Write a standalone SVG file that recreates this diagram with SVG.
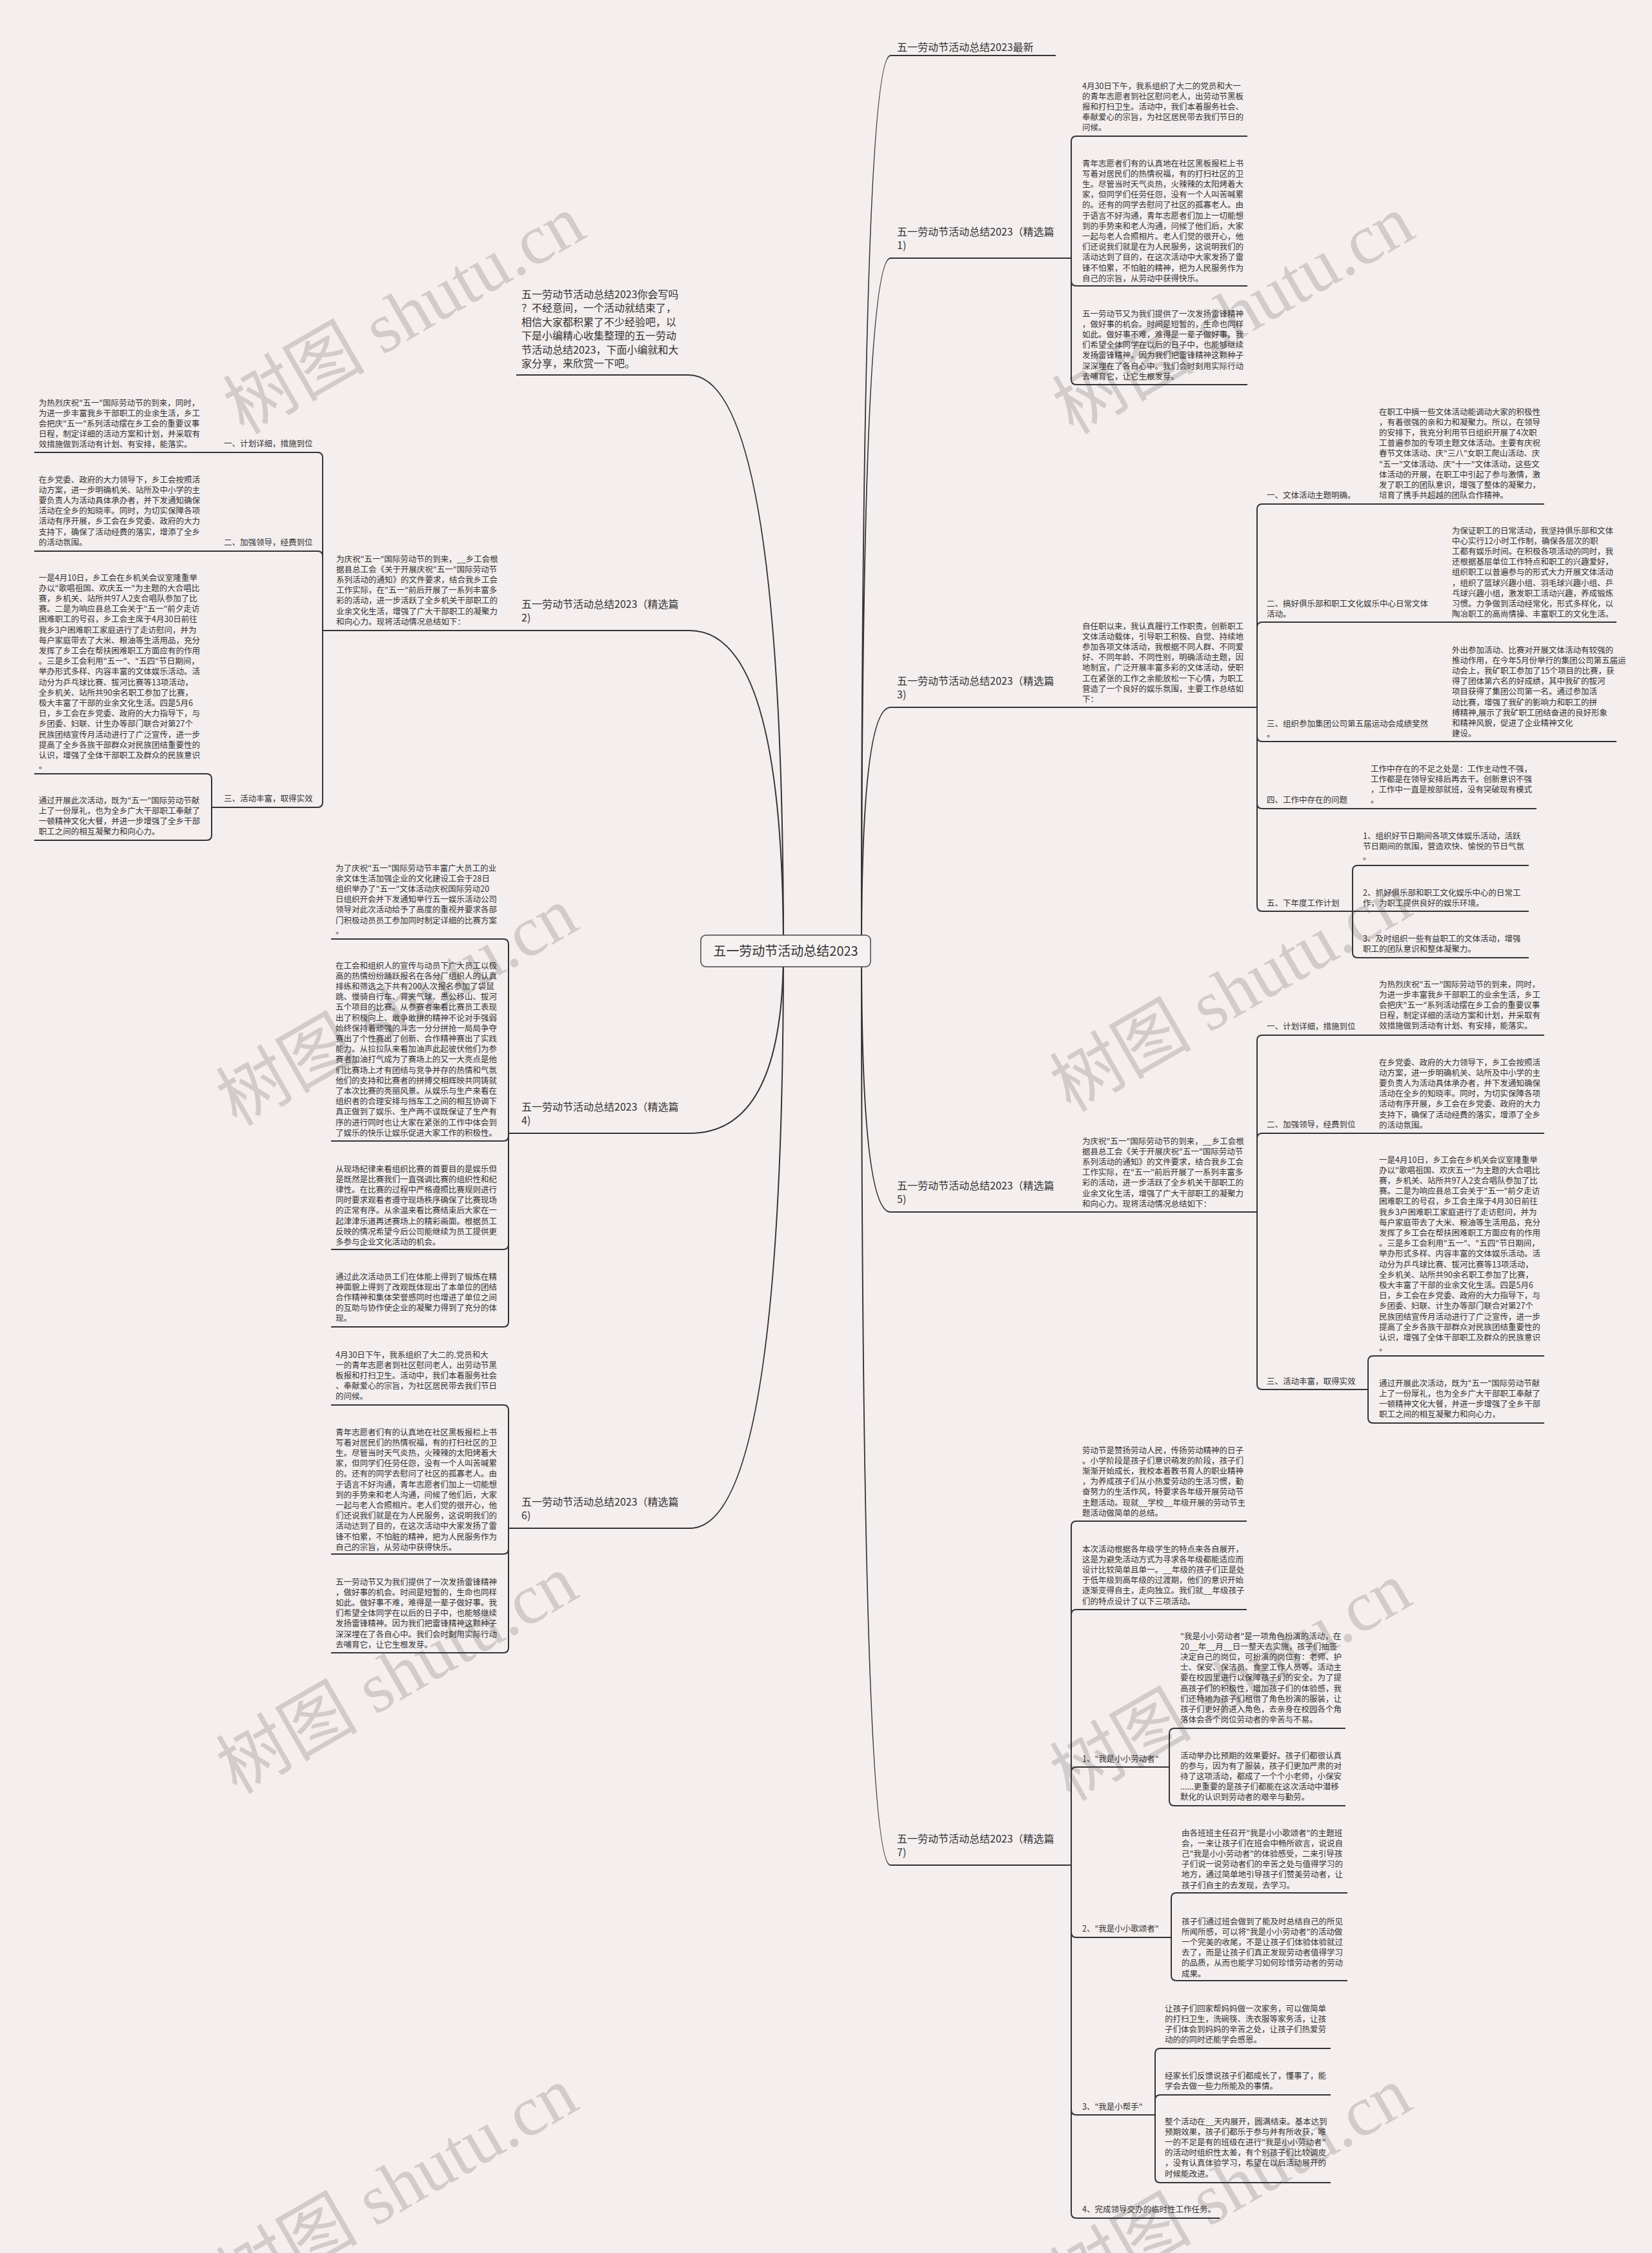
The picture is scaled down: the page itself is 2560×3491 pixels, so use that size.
<svg xmlns="http://www.w3.org/2000/svg" width="2560" height="3491" viewBox="0 0 2560 3491">
<style>
.t{font-family:"Noto Sans CJK SC","Noto Sans",sans-serif;font-size:12.5px;fill:#333}
.lb{font-family:"Noto Sans CJK SC","Noto Sans",sans-serif;font-size:16px;fill:#333}
.ct{font-family:"Noto Sans CJK SC","Noto Sans",sans-serif;font-size:20px;fill:#333}
.ul{stroke:#333;stroke-width:2;fill:none}
.cn{stroke:#333;stroke-width:2;fill:none}
.wm{font-family:"Liberation Serif","Noto Sans CJK SC",serif;font-size:110px;fill:#c9c3c3;opacity:0.8}
</style>
<rect x="0" y="0" width="2560" height="3491" fill="#f4eeee"/>
<g id="watermarks">
<text class="wm" text-anchor="middle" transform="translate(645,520) rotate(-30)">树图 shutu.cn</text>
<text class="wm" text-anchor="middle" transform="translate(1930,520) rotate(-30)">树图 shutu.cn</text>
<text class="wm" text-anchor="middle" transform="translate(634,1592) rotate(-30)">树图 shutu.cn</text>
<text class="wm" text-anchor="middle" transform="translate(1926,1570) rotate(-30)">树图 shutu.cn</text>
<text class="wm" text-anchor="middle" transform="translate(634,2627) rotate(-30)">树图 shutu.cn</text>
<text class="wm" text-anchor="middle" transform="translate(1926,2638) rotate(-30)">树图 shutu.cn</text>
<text class="wm" text-anchor="middle" transform="translate(634,3420) rotate(-30)">树图 shutu.cn</text>
<text class="wm" text-anchor="middle" transform="translate(1926,3420) rotate(-30)">树图 shutu.cn</text>
</g>
<g id="connectors">
<path class="cn" d="M1335 1473Q1335 86 1380 86"/>
<path class="cn" d="M1335 1473Q1335 400 1380 400"/>
<path class="cn" d="M1335 1473Q1335 1096 1380 1096"/>
<path class="cn" d="M1335 1473Q1335 1878 1380 1878"/>
<path class="cn" d="M1335 1473Q1335 2890 1380 2890"/>
<path class="cn" d="M1214 1473Q1214 581 1067 581"/>
<path class="cn" d="M1214 1473Q1214 977 1069 977"/>
<path class="cn" d="M1214 1473Q1214 1756 1069 1756"/>
<path class="cn" d="M1214 1473Q1214 2368 1069 2368"/>
<path class="cn" d="M1660 400V219Q1660 211 1668 211M1660 400V435Q1660 443 1668 443M1660 400V588Q1660 596 1668 596"/>
<path class="cn" d="M1948 1096V789Q1948 781 1956 781M1948 1096V972Q1948 964 1956 964M1948 1096V1141Q1948 1149 1956 1149M1948 1096V1245Q1948 1253 1956 1253M1948 1096V1404Q1948 1412 1956 1412"/>
<path class="cn" d="M2096 1412V1349Q2096 1341 2104 1341M2096 1412H2104M2096 1412V1476Q2096 1484 2104 1484"/>
<path class="cn" d="M1948 1878V1612Q1948 1604 1956 1604M1948 1878V1764Q1948 1756 1956 1756M1948 1878V2145Q1948 2153 1956 2153"/>
<path class="cn" d="M2120 2153V2109Q2120 2101 2128 2101M2120 2153V2197Q2120 2205 2128 2205"/>
<path class="cn" d="M1660 2890V2365Q1660 2357 1668 2357M1660 2890V2502Q1660 2494 1668 2494M1660 2890V2746Q1660 2738 1668 2738M1660 2890V2994Q1660 3002 1668 3002M1660 2890V3269Q1660 3277 1668 3277M1660 2890V3429Q1660 3437 1668 3437"/>
<path class="cn" d="M1812 2738V2686Q1812 2678 1820 2678M1812 2738V2790Q1812 2798 1820 2798"/>
<path class="cn" d="M1815 3002V2941Q1815 2933 1823 2933M1815 3002V3061Q1815 3069 1823 3069"/>
<path class="cn" d="M1790 3277V3182Q1790 3174 1798 3174M1790 3277V3254Q1790 3246 1798 3246M1790 3277V3374Q1790 3382 1798 3382"/>
<path class="cn" d="M500 977V709Q500 701 492 701M500 977V862Q500 854 492 854M500 977V1243Q500 1251 492 1251"/>
<path class="cn" d="M328 1251V1207Q328 1199 320 1199M328 1251V1294Q328 1302 320 1302"/>
<path class="cn" d="M788 1756V1463Q788 1455 780 1455M788 1756V1760Q788 1768 780 1768M788 1756V1928Q788 1936 780 1936M788 1756V2048Q788 2056 780 2056"/>
<path class="cn" d="M788 2368V2185Q788 2177 780 2177M788 2368V2400Q788 2408 780 2408M788 2368V2553Q788 2561 780 2561"/>
</g>
<g id="center">
<rect x="1086" y="1449" width="263" height="49" rx="8" fill="#f6f1f1" stroke="#444" stroke-width="1.5"/>
<text class="ct" x="1217.5" y="1480.5" text-anchor="middle">五一劳动节活动总结2023</text>
</g>
<g id="r0">
<text class="lb" x="1390" y="79">五一劳动节活动总结2023最新</text>
<path class="ul" d="M1380 86H1636"/>
</g>
<g id="r1">
<text class="lb" x="1390" y="365"><tspan x="1390">五一劳动节活动总结2023（精选篇</tspan><tspan x="1390" dy="21.4">1)</tspan></text>
<path class="ul" d="M1380 400H1660"/>
</g>
<g id="r1-1">
<text class="t" x="1677" y="137.6"><tspan x="1677">4月30日下午，我系组织了大二的党员和大一</tspan><tspan x="1677" dy="16.2">的青年志愿者到社区慰问老人，出劳动节黑板</tspan><tspan x="1677" dy="16.2">报和打扫卫生。活动中，我们本着服务社会、</tspan><tspan x="1677" dy="16.2">奉献爱心的宗旨，为社区居民带去我们节日的</tspan><tspan x="1677" dy="16.2">问候。</tspan></text>
<path class="ul" d="M1668 211H1933"/>
</g>
<g id="r1-2">
<text class="t" x="1677" y="257.6"><tspan x="1677">青年志愿者们有的认真地在社区黑板报栏上书</tspan><tspan x="1677" dy="16.2">写着对居民们的热情祝福，有的打扫社区的卫</tspan><tspan x="1677" dy="16.2">生。尽管当时天气炎热，火辣辣的太阳烤着大</tspan><tspan x="1677" dy="16.2">家，但同学们任劳任怨，没有一个人叫苦喊累</tspan><tspan x="1677" dy="16.2">的。还有的同学去慰问了社区的孤寡老人。由</tspan><tspan x="1677" dy="16.2">于语言不好沟通，青年志愿者们加上一切能想</tspan><tspan x="1677" dy="16.2">到的手势来和老人沟通，问候了他们后，大家</tspan><tspan x="1677" dy="16.2">一起与老人合照相片。老人们觉的很开心，他</tspan><tspan x="1677" dy="16.2">们还说我们就是在为人民服务，这说明我们的</tspan><tspan x="1677" dy="16.2">活动达到了目的，在这次活动中大家发扬了雷</tspan><tspan x="1677" dy="16.2">锋不怕累，不怕脏的精神，把为人民服务作为</tspan><tspan x="1677" dy="16.2">自己的宗旨，从劳动中获得快乐。</tspan></text>
<path class="ul" d="M1668 443H1933"/>
</g>
<g id="r1-3">
<text class="t" x="1677" y="490.6"><tspan x="1677">五一劳动节又为我们提供了一次发扬雷锋精神</tspan><tspan x="1677" dy="16.2">，做好事的机会。时间是短暂的，生命也同样</tspan><tspan x="1677" dy="16.2">如此。做好事不难，难得是一辈子做好事。我</tspan><tspan x="1677" dy="16.2">们希望全体同学在以后的日子中，也能够继续</tspan><tspan x="1677" dy="16.2">发扬雷锋精神。因为我们把雷锋精神这颗种子</tspan><tspan x="1677" dy="16.2">深深埋在了各自心中。我们会时刻用实际行动</tspan><tspan x="1677" dy="16.2">去哺育它，让它生根发芽。</tspan></text>
<path class="ul" d="M1668 596H1933"/>
</g>
<g id="r3">
<text class="lb" x="1390" y="1061"><tspan x="1390">五一劳动节活动总结2023（精选篇</tspan><tspan x="1390" dy="21.4">3)</tspan></text>
<path class="ul" d="M1380 1096H1660"/>
</g>
<g id="r3-0">
<text class="t" x="1677" y="974.6"><tspan x="1677">自任职以来，我认真履行工作职责，创新职工</tspan><tspan x="1677" dy="16.2">文体活动载体，引导职工积极、自觉、持续地</tspan><tspan x="1677" dy="16.2">参加各项文体活动，我根据不同人群、不同爱</tspan><tspan x="1677" dy="16.2">好、不同年龄、不同性别，明确活动主题，因</tspan><tspan x="1677" dy="16.2">地制宜，广泛开展丰富多彩的文体活动，使职</tspan><tspan x="1677" dy="16.2">工在紧张的工作之余能放松一下心情，为职工</tspan><tspan x="1677" dy="16.2">营造了一个良好的娱乐氛围，主要工作总结如</tspan><tspan x="1677" dy="16.2">下：</tspan></text>
<path class="ul" d="M1660 1096H1948"/>
</g>
<g id="r3-1">
<text class="t" x="1963" y="771.6">一、文体活动主题明确。</text>
<path class="ul" d="M1956 781H2128"/>
</g>
<g id="r3-1-1">
<text class="t" x="2137" y="642.6"><tspan x="2137">在职工中搞一些文体活动能调动大家的积极性</tspan><tspan x="2137" dy="16.2">，有着很强的亲和力和凝聚力。所以，在领导</tspan><tspan x="2137" dy="16.2">的安排下，我充分利用节日组织开展了4次职</tspan><tspan x="2137" dy="16.2">工普遍参加的专项主题文体活动。主要有庆祝</tspan><tspan x="2137" dy="16.2">春节文体活动、庆"三八"女职工爬山活动、庆</tspan><tspan x="2137" dy="16.2">"五一"文体活动、庆"十一"文体活动，这些文</tspan><tspan x="2137" dy="16.2">体活动的开展，在职工中引起了参与激情，激</tspan><tspan x="2137" dy="16.2">发了职工的团队意识，增强了整体的凝聚力，</tspan><tspan x="2137" dy="16.2">培育了携手共超越的团队合作精神。</tspan></text>
<path class="ul" d="M2128 781H2393"/>
</g>
<g id="r3-2">
<text class="t" x="1963" y="939.6"><tspan x="1963">二、搞好俱乐部和职工文化娱乐中心日常文体</tspan><tspan x="1963" dy="16.2">活动。</tspan></text>
<path class="ul" d="M1956 964H2240"/>
</g>
<g id="r3-2-1">
<text class="t" x="2250" y="826.6"><tspan x="2250">为保证职工的日常活动，我坚持俱乐部和文体</tspan><tspan x="2250" dy="16.2">中心实行12小时工作制，确保各层次的职</tspan><tspan x="2250" dy="16.2">工都有娱乐时间。在积极各项活动的同时，我</tspan><tspan x="2250" dy="16.2">还根据基层单位工作特点和职工的兴趣爱好，</tspan><tspan x="2250" dy="16.2">组织职工以普遍参与的形式大力开展文体活动</tspan><tspan x="2250" dy="16.2">，组织了篮球兴趣小组、羽毛球兴趣小组、乒</tspan><tspan x="2250" dy="16.2">乓球兴趣小组，激发职工活动兴趣，养成锻炼</tspan><tspan x="2250" dy="16.2">习惯。力争做到活动经常化，形式多样化，以</tspan><tspan x="2250" dy="16.2">陶冶职工的高尚情操、丰富职工的文化生活。</tspan></text>
<path class="ul" d="M2240 964H2505"/>
</g>
<g id="r3-3">
<text class="t" x="1963" y="1125.6"><tspan x="1963">三、组织参加集团公司第五届运动会成绩斐然</tspan><tspan x="1963" dy="16.2">。</tspan></text>
<path class="ul" d="M1956 1149H2240"/>
</g>
<g id="r3-3-1">
<text class="t" x="2250" y="1011.6"><tspan x="2250">外出参加活动、比赛对开展文体活动有较强的</tspan><tspan x="2250" dy="16.2">推动作用，在今年5月份举行的集团公司第五届运</tspan><tspan x="2250" dy="16.2">动会上，我矿职工参加了15个项目的比赛，获</tspan><tspan x="2250" dy="16.2">得了团体第六名的好成绩，其中我矿的拔河</tspan><tspan x="2250" dy="16.2">项目获得了集团公司第一名。通过参加活</tspan><tspan x="2250" dy="16.2">动比赛，增强了我矿的影响力和职工的拼</tspan><tspan x="2250" dy="16.2">搏精神,展示了我矿职工团结奋进的良好形象</tspan><tspan x="2250" dy="16.2">和精神风貌，促进了企业精神文化</tspan><tspan x="2250" dy="16.2">建设。</tspan></text>
<path class="ul" d="M2240 1149H2505"/>
</g>
<g id="r3-4">
<text class="t" x="1963" y="1243.6">四、工作中存在的问题</text>
<path class="ul" d="M1956 1253H2115"/>
</g>
<g id="r3-4-1">
<text class="t" x="2124" y="1195.6"><tspan x="2124">工作中存在的不足之处是：工作主动性不强，</tspan><tspan x="2124" dy="16.2">工作都是在领导安排后再去干。创新意识不强</tspan><tspan x="2124" dy="16.2">，工作中一直是按部就班，没有突破现有模式</tspan><tspan x="2124" dy="16.2">。</tspan></text>
<path class="ul" d="M2115 1253H2381"/>
</g>
<g id="r3-5">
<text class="t" x="1963" y="1403.6">五、下年度工作计划</text>
<path class="ul" d="M1956 1412H2096"/>
</g>
<g id="r3-5-1">
<text class="t" x="2112" y="1299.6"><tspan x="2112">1、组织好节日期间各项文体娱乐活动，活跃</tspan><tspan x="2112" dy="16.2">节日期间的氛围，营造欢快、愉悦的节日气氛</tspan><tspan x="2112" dy="16.2">。</tspan></text>
<path class="ul" d="M2104 1341H2369"/>
</g>
<g id="r3-5-2">
<text class="t" x="2112" y="1387.6"><tspan x="2112">2、抓好俱乐部和职工文化娱乐中心的日常工</tspan><tspan x="2112" dy="16.2">作，为职工提供良好的娱乐环境。</tspan></text>
<path class="ul" d="M2104 1412H2369"/>
</g>
<g id="r3-5-3">
<text class="t" x="2112" y="1458.6"><tspan x="2112">3、及时组织一些有益职工的文体活动，增强</tspan><tspan x="2112" dy="16.2">职工的团队意识和整体凝聚力。</tspan></text>
<path class="ul" d="M2104 1484H2369"/>
</g>
<g id="r5">
<text class="lb" x="1390" y="1843"><tspan x="1390">五一劳动节活动总结2023（精选篇</tspan><tspan x="1390" dy="21.4">5)</tspan></text>
<path class="ul" d="M1380 1878H1660"/>
</g>
<g id="r5-0">
<text class="t" x="1677" y="1772.6"><tspan x="1677">为庆祝"五一"国际劳动节的到来，__乡工会根</tspan><tspan x="1677" dy="16.2">据县总工会《关于开展庆祝"五一"国际劳动节</tspan><tspan x="1677" dy="16.2">系列活动的通知》的文件要求，结合我乡工会</tspan><tspan x="1677" dy="16.2">工作实际，在"五一"前后开展了一系列丰富多</tspan><tspan x="1677" dy="16.2">彩的活动，进一步活跃了全乡机关干部职工的</tspan><tspan x="1677" dy="16.2">业余文化生活，增强了广大干部职工的凝聚力</tspan><tspan x="1677" dy="16.2">和向心力。现将活动情况总结如下：</tspan></text>
<path class="ul" d="M1660 1878H1948"/>
</g>
<g id="r5-1">
<text class="t" x="1963" y="1594.6">一、计划详细，措施到位</text>
<path class="ul" d="M1956 1604H2128"/>
</g>
<g id="r5-1-1">
<text class="t" x="2137" y="1529.6"><tspan x="2137">为热烈庆祝"五一"国际劳动节的到来，同时，</tspan><tspan x="2137" dy="16.2">为进一步丰富我乡干部职工的业余生活，乡工</tspan><tspan x="2137" dy="16.2">会把庆"五一"系列活动摆在乡工会的重要议事</tspan><tspan x="2137" dy="16.2">日程，制定详细的活动方案和计划，并采取有</tspan><tspan x="2137" dy="16.2">效措施做到活动有计划、有安排，能落实。</tspan></text>
<path class="ul" d="M2128 1604H2393"/>
</g>
<g id="r5-2">
<text class="t" x="1963" y="1746.6">二、加强领导，经费到位</text>
<path class="ul" d="M1956 1756H2128"/>
</g>
<g id="r5-2-1">
<text class="t" x="2137" y="1650.6"><tspan x="2137">在乡党委、政府的大力领导下，乡工会按照活</tspan><tspan x="2137" dy="16.2">动方案，进一步明确机关、站所及中小学的主</tspan><tspan x="2137" dy="16.2">要负责人为活动具体承办者，并下发通知确保</tspan><tspan x="2137" dy="16.2">活动在全乡的知晓率。同时，为切实保障各项</tspan><tspan x="2137" dy="16.2">活动有序开展，乡工会在乡党委、政府的大力</tspan><tspan x="2137" dy="16.2">支持下，确保了活动经费的落实，增添了全乡</tspan><tspan x="2137" dy="16.2">的活动氛围。</tspan></text>
<path class="ul" d="M2128 1756H2393"/>
</g>
<g id="r5-3">
<text class="t" x="1963" y="2144.6">三、活动丰富，取得实效</text>
<path class="ul" d="M1956 2153H2120"/>
</g>
<g id="r5-3-1">
<text class="t" x="2137" y="1801.6"><tspan x="2137">一是4月10日，乡工会在乡机关会议室隆重举</tspan><tspan x="2137" dy="16.2">办以"歌唱祖国、欢庆五一"为主题的大合唱比</tspan><tspan x="2137" dy="16.2">赛，乡机关、站所共97人2支合唱队参加了比</tspan><tspan x="2137" dy="16.2">赛。二是为响应县总工会关于"五一"前夕走访</tspan><tspan x="2137" dy="16.2">困难职工的号召，乡工会主席于4月30日前往</tspan><tspan x="2137" dy="16.2">我乡3户困难职工家庭进行了走访慰问，并为</tspan><tspan x="2137" dy="16.2">每户家庭带去了大米、粮油等生活用品，充分</tspan><tspan x="2137" dy="16.2">发挥了乡工会在帮扶困难职工方面应有的作用</tspan><tspan x="2137" dy="16.2">。三是乡工会利用"五一"、"五四"节日期间，</tspan><tspan x="2137" dy="16.2">举办形式多样、内容丰富的文体娱乐活动。活</tspan><tspan x="2137" dy="16.2">动分为乒乓球比赛、拔河比赛等13项活动，</tspan><tspan x="2137" dy="16.2">全乡机关、站所共90余名职工参加了比赛，</tspan><tspan x="2137" dy="16.2">极大丰富了干部的业余文化生活。四是5月6</tspan><tspan x="2137" dy="16.2">日，乡工会在乡党委、政府的大力指导下，与</tspan><tspan x="2137" dy="16.2">乡团委、妇联、计生办等部门联合对第27个</tspan><tspan x="2137" dy="16.2">民族团结宣传月活动进行了广泛宣传，进一步</tspan><tspan x="2137" dy="16.2">提高了全乡各族干部群众对民族团结重要性的</tspan><tspan x="2137" dy="16.2">认识，增强了全体干部职工及群众的民族意识</tspan><tspan x="2137" dy="16.2">。</tspan></text>
<path class="ul" d="M2128 2101H2393"/>
</g>
<g id="r5-3-2">
<text class="t" x="2137" y="2147.6"><tspan x="2137">通过开展此次活动，既为"五一"国际劳动节献</tspan><tspan x="2137" dy="16.2">上了一份厚礼，也为全乡广大干部职工奉献了</tspan><tspan x="2137" dy="16.2">一顿精神文化大餐，并进一步增强了全乡干部</tspan><tspan x="2137" dy="16.2">职工之间的相互凝聚力和向心力，</tspan></text>
<path class="ul" d="M2128 2205H2393"/>
</g>
<g id="r7">
<text class="lb" x="1390" y="2855"><tspan x="1390">五一劳动节活动总结2023（精选篇</tspan><tspan x="1390" dy="21.4">7)</tspan></text>
<path class="ul" d="M1380 2890H1660"/>
</g>
<g id="r7-1">
<text class="t" x="1677" y="2251.6"><tspan x="1677">劳动节是赞扬劳动人民，传扬劳动精神的日子</tspan><tspan x="1677" dy="16.2">。小学阶段是孩子们意识萌发的阶段，孩子们</tspan><tspan x="1677" dy="16.2">渐渐开始成长，我校本着教书育人的职业精神</tspan><tspan x="1677" dy="16.2">，为养成孩子们从小热爱劳动的生活习惯，勤</tspan><tspan x="1677" dy="16.2">奋努力的生活作风，特要求各年级开展劳动节</tspan><tspan x="1677" dy="16.2">主题活动。现就__学校__年级开展的劳动节主</tspan><tspan x="1677" dy="16.2">题活动做简单的总结。</tspan></text>
<path class="ul" d="M1668 2357H1932"/>
</g>
<g id="r7-2">
<text class="t" x="1677" y="2404.6"><tspan x="1677">本次活动根据各年级学生的特点来各自展开，</tspan><tspan x="1677" dy="16.2">这是为避免活动方式为寻求各年级都能适应而</tspan><tspan x="1677" dy="16.2">设计比较简单且单一。__年级的孩子们正是处</tspan><tspan x="1677" dy="16.2">于低年级到高年级的过渡期，他们的意识开始</tspan><tspan x="1677" dy="16.2">逐渐变得自主，走向独立。我们就__年级孩子</tspan><tspan x="1677" dy="16.2">们的特点设计了以下三项活动。</tspan></text>
<path class="ul" d="M1668 2494H1932"/>
</g>
<g id="r7-3">
<text class="t" x="1677" y="2729.6">1、"我是小小劳动者"</text>
<path class="ul" d="M1668 2738H1812"/>
</g>
<g id="r7-3-1">
<text class="t" x="1829" y="2539.6"><tspan x="1829">"我是小小劳动者"是一项角色扮演的活动，在</tspan><tspan x="1829" dy="16.2">20__年__月__日一整天去实施，孩子们抽签</tspan><tspan x="1829" dy="16.2">决定自己的岗位，可扮演的岗位有：老师、护</tspan><tspan x="1829" dy="16.2">士、保安、保洁员、食堂工作人员等。活动主</tspan><tspan x="1829" dy="16.2">要在校园里进行以保障孩子们的安全。为了提</tspan><tspan x="1829" dy="16.2">高孩子们的积极性，增加孩子们的体验感，我</tspan><tspan x="1829" dy="16.2">们还特地为孩子们租借了角色扮演的服装，让</tspan><tspan x="1829" dy="16.2">孩子们更好的进入角色，去亲身在校园各个角</tspan><tspan x="1829" dy="16.2">落体会各个岗位劳动者的辛苦与不易。</tspan></text>
<path class="ul" d="M1820 2678H2085"/>
</g>
<g id="r7-3-2">
<text class="t" x="1829" y="2724.6"><tspan x="1829">活动举办比预期的效果要好。孩子们都很认真</tspan><tspan x="1829" dy="16.2">的参与，因为有了服装，孩子们更加严肃的对</tspan><tspan x="1829" dy="16.2">待了这项活动，都成了一个个小老师，小保安</tspan><tspan x="1829" dy="16.2">......更重要的是孩子们都能在这次活动中潜移</tspan><tspan x="1829" dy="16.2">默化的认识到劳动者的艰辛与勤劳。</tspan></text>
<path class="ul" d="M1820 2798H2085"/>
</g>
<g id="r7-4">
<text class="t" x="1677" y="2992.6">2、"我是小小歌颂者"</text>
<path class="ul" d="M1668 3002H1815"/>
</g>
<g id="r7-4-1">
<text class="t" x="1831" y="2844.6"><tspan x="1831">由各班班主任召开"我是小小歌颂者"的主题班</tspan><tspan x="1831" dy="16.2">会，一来让孩子们在班会中畅所欲言，说说自</tspan><tspan x="1831" dy="16.2">己"我是小小劳动者"的体验感受，二来引导孩</tspan><tspan x="1831" dy="16.2">子们说一说劳动者们的辛苦之处与值得学习的</tspan><tspan x="1831" dy="16.2">地方，通过简单地引导孩子们赞美劳动者，让</tspan><tspan x="1831" dy="16.2">孩子们自主的去发现，去学习。</tspan></text>
<path class="ul" d="M1823 2933H2088"/>
</g>
<g id="r7-4-2">
<text class="t" x="1831" y="2981.6"><tspan x="1831">孩子们通过班会做到了能及时总结自己的所见</tspan><tspan x="1831" dy="16.2">所闻所感，可以将"我是小小劳动者"的活动做</tspan><tspan x="1831" dy="16.2">一个完美的收尾，不是让孩子们体验体验就过</tspan><tspan x="1831" dy="16.2">去了，而是让孩子们真正发现劳动者值得学习</tspan><tspan x="1831" dy="16.2">的品质，从而也能学习如何珍惜劳动者的劳动</tspan><tspan x="1831" dy="16.2">成果。</tspan></text>
<path class="ul" d="M1823 3069H2088"/>
</g>
<g id="r7-5">
<text class="t" x="1677" y="3268.6">3、"我是小帮手"</text>
<path class="ul" d="M1668 3277H1790"/>
</g>
<g id="r7-5-1">
<text class="t" x="1805" y="3116.6"><tspan x="1805">让孩子们回家帮妈妈做一次家务，可以做简单</tspan><tspan x="1805" dy="16.2">的打扫卫生，洗碗筷、洗衣服等家务活，让孩</tspan><tspan x="1805" dy="16.2">子们体会到妈妈的辛苦之处，让孩子们热爱劳</tspan><tspan x="1805" dy="16.2">动的的同时还能学会感恩。</tspan></text>
<path class="ul" d="M1798 3174H2062"/>
</g>
<g id="r7-5-2">
<text class="t" x="1805" y="3220.6"><tspan x="1805">经家长们反馈说孩子们都成长了，懂事了，能</tspan><tspan x="1805" dy="16.2">学会去做一些力所能及的事情。</tspan></text>
<path class="ul" d="M1798 3246H2062"/>
</g>
<g id="r7-5-3">
<text class="t" x="1805" y="3291.6"><tspan x="1805">整个活动在__天内展开，圆满结束。基本达到</tspan><tspan x="1805" dy="16.2">预期效果，孩子们都乐于参与并有所收获，唯</tspan><tspan x="1805" dy="16.2">一的不足是有的班级在进行"我是小小劳动者"</tspan><tspan x="1805" dy="16.2">的活动时组织性太差，有个别孩子们比较调皮</tspan><tspan x="1805" dy="16.2">，没有认真体验学习，希望在以后活动展开的</tspan><tspan x="1805" dy="16.2">时候能改进。</tspan></text>
<path class="ul" d="M1798 3382H2062"/>
</g>
<g id="r7-6">
<text class="t" x="1677" y="3427.6">4、完成领导交办的临时性工作任务。</text>
<path class="ul" d="M1668 3437H1890"/>
</g>
<g id="l0">
<text class="lb" x="808" y="462"><tspan x="808">五一劳动节活动总结2023你会写吗</tspan><tspan x="808" dy="21.4">？不经意间，一个活动就结束了，</tspan><tspan x="808" dy="21.4">相信大家都积累了不少经验吧，以</tspan><tspan x="808" dy="21.4">下是小编精心收集整理的五一劳动</tspan><tspan x="808" dy="21.4">节活动总结2023，下面小编就和大</tspan><tspan x="808" dy="21.4">家分享，来欣赏一下吧。</tspan></text>
<path class="ul" d="M800 581H1067"/>
</g>
<g id="l2">
<text class="lb" x="808" y="942"><tspan x="808">五一劳动节活动总结2023（精选篇</tspan><tspan x="808" dy="21.4">2)</tspan></text>
<path class="ul" d="M800 977H1069"/>
</g>
<g id="l2-0">
<text class="t" x="521" y="870.6"><tspan x="521">为庆祝"五一"国际劳动节的到来，__乡工会根</tspan><tspan x="521" dy="16.2">据县总工会《关于开展庆祝"五一"国际劳动节</tspan><tspan x="521" dy="16.2">系列活动的通知》的文件要求，结合我乡工会</tspan><tspan x="521" dy="16.2">工作实际，在"五一"前后开展了一系列丰富多</tspan><tspan x="521" dy="16.2">彩的活动，进一步活跃了全乡机关干部职工的</tspan><tspan x="521" dy="16.2">业余文化生活，增强了广大干部职工的凝聚力</tspan><tspan x="521" dy="16.2">和向心力。现将活动情况总结如下：</tspan></text>
<path class="ul" d="M500 977H800"/>
</g>
<g id="l2-1">
<text class="t" x="347" y="691.6">一、计划详细，措施到位</text>
<path class="ul" d="M340 701H492"/>
</g>
<g id="l2-1-1">
<text class="t" x="60" y="628.6"><tspan x="60">为热烈庆祝"五一"国际劳动节的到来，同时，</tspan><tspan x="60" dy="16.2">为进一步丰富我乡干部职工的业余生活，乡工</tspan><tspan x="60" dy="16.2">会把庆"五一"系列活动摆在乡工会的重要议事</tspan><tspan x="60" dy="16.2">日程，制定详细的活动方案和计划，并采取有</tspan><tspan x="60" dy="16.2">效措施做到活动有计划、有安排，能落实。</tspan></text>
<path class="ul" d="M53 701H340"/>
</g>
<g id="l2-2">
<text class="t" x="347" y="844.6">二、加强领导，经费到位</text>
<path class="ul" d="M340 854H492"/>
</g>
<g id="l2-2-1">
<text class="t" x="60" y="747.6"><tspan x="60">在乡党委、政府的大力领导下，乡工会按照活</tspan><tspan x="60" dy="16.2">动方案，进一步明确机关、站所及中小学的主</tspan><tspan x="60" dy="16.2">要负责人为活动具体承办者，并下发通知确保</tspan><tspan x="60" dy="16.2">活动在全乡的知晓率。同时，为切实保障各项</tspan><tspan x="60" dy="16.2">活动有序开展，乡工会在乡党委、政府的大力</tspan><tspan x="60" dy="16.2">支持下，确保了活动经费的落实，增添了全乡</tspan><tspan x="60" dy="16.2">的活动氛围。</tspan></text>
<path class="ul" d="M53 854H340"/>
</g>
<g id="l2-3">
<text class="t" x="347" y="1241.6">三、活动丰富，取得实效</text>
<path class="ul" d="M328 1251H492"/>
</g>
<g id="l2-3-1">
<text class="t" x="60" y="899.6"><tspan x="60">一是4月10日，乡工会在乡机关会议室隆重举</tspan><tspan x="60" dy="16.2">办以"歌唱祖国、欢庆五一"为主题的大合唱比</tspan><tspan x="60" dy="16.2">赛，乡机关、站所共97人2支合唱队参加了比</tspan><tspan x="60" dy="16.2">赛。二是为响应县总工会关于"五一"前夕走访</tspan><tspan x="60" dy="16.2">困难职工的号召，乡工会主席于4月30日前往</tspan><tspan x="60" dy="16.2">我乡3户困难职工家庭进行了走访慰问，并为</tspan><tspan x="60" dy="16.2">每户家庭带去了大米、粮油等生活用品，充分</tspan><tspan x="60" dy="16.2">发挥了乡工会在帮扶困难职工方面应有的作用</tspan><tspan x="60" dy="16.2">。三是乡工会利用"五一"、"五四"节日期间，</tspan><tspan x="60" dy="16.2">举办形式多样、内容丰富的文体娱乐活动。活</tspan><tspan x="60" dy="16.2">动分为乒乓球比赛、拔河比赛等13项活动，</tspan><tspan x="60" dy="16.2">全乡机关、站所共90余名职工参加了比赛，</tspan><tspan x="60" dy="16.2">极大丰富了干部的业余文化生活。四是5月6</tspan><tspan x="60" dy="16.2">日，乡工会在乡党委、政府的大力指导下，与</tspan><tspan x="60" dy="16.2">乡团委、妇联、计生办等部门联合对第27个</tspan><tspan x="60" dy="16.2">民族团结宣传月活动进行了广泛宣传，进一步</tspan><tspan x="60" dy="16.2">提高了全乡各族干部群众对民族团结重要性的</tspan><tspan x="60" dy="16.2">认识，增强了全体干部职工及群众的民族意识</tspan><tspan x="60" dy="16.2">。</tspan></text>
<path class="ul" d="M53 1199H320"/>
</g>
<g id="l2-3-2">
<text class="t" x="60" y="1244.6"><tspan x="60">通过开展此次活动，既为"五一"国际劳动节献</tspan><tspan x="60" dy="16.2">上了一份厚礼，也为全乡广大干部职工奉献了</tspan><tspan x="60" dy="16.2">一顿精神文化大餐，并进一步增强了全乡干部</tspan><tspan x="60" dy="16.2">职工之间的相互凝聚力和向心力。</tspan></text>
<path class="ul" d="M53 1302H320"/>
</g>
<g id="l4">
<text class="lb" x="808" y="1721"><tspan x="808">五一劳动节活动总结2023（精选篇</tspan><tspan x="808" dy="21.4">4)</tspan></text>
<path class="ul" d="M788 1756H1069"/>
</g>
<g id="l4-1">
<text class="t" x="520" y="1349.6"><tspan x="520">为了庆祝"五一"国际劳动节丰富广大员工的业</tspan><tspan x="520" dy="16.2">余文体生活加强企业的文化建设工会于28日</tspan><tspan x="520" dy="16.2">组织举办了"五一"文体活动庆祝国际劳动20</tspan><tspan x="520" dy="16.2">日组织开会并下发通知举行五一娱乐活动公司</tspan><tspan x="520" dy="16.2">领导对此次活动给予了高度的重视并要求各部</tspan><tspan x="520" dy="16.2">门积极动员员工参加同时制定详细的比赛方案</tspan><tspan x="520" dy="16.2">。</tspan></text>
<path class="ul" d="M513 1455H780"/>
</g>
<g id="l4-2">
<text class="t" x="520" y="1500.6"><tspan x="520">在工会和组织人的宣传与动员下广大员工以极</tspan><tspan x="520" dy="16.2">高的热情纷纷踊跃报名在各分厂组织人的认真</tspan><tspan x="520" dy="16.2">排练和筛选之下共有200人次报名参加了袋鼠</tspan><tspan x="520" dy="16.2">跳、慢骑自行车、背夹气球、愚公移山、拔河</tspan><tspan x="520" dy="16.2">五个项目的比赛。从参赛者来看比赛员工表现</tspan><tspan x="520" dy="16.2">出了积极向上、敢争敢拼的精神不论对手强弱</tspan><tspan x="520" dy="16.2">始终保持着顽强的斗志一分分拼抢一局局争夺</tspan><tspan x="520" dy="16.2">赛出了个性赛出了创新、合作精神赛出了实践</tspan><tspan x="520" dy="16.2">能力。从拉拉队来看加油声此起彼伏他们为参</tspan><tspan x="520" dy="16.2">赛者加油打气成为了赛场上的又一大亮点是他</tspan><tspan x="520" dy="16.2">们比赛场上才有团结与竞争并存的热情和气氛</tspan><tspan x="520" dy="16.2">他们的支持和比赛者的拼搏交相辉映共同铸就</tspan><tspan x="520" dy="16.2">了本次比赛的亮丽风景。从娱乐与生产来看在</tspan><tspan x="520" dy="16.2">组织者的合理安排与挡车工之间的相互协调下</tspan><tspan x="520" dy="16.2">真正做到了娱乐、生产两不误既保证了生产有</tspan><tspan x="520" dy="16.2">序的进行同时也让大家在紧张的工作中体会到</tspan><tspan x="520" dy="16.2">了娱乐的快乐让娱乐促进大家工作的积极性。</tspan></text>
<path class="ul" d="M513 1768H780"/>
</g>
<g id="l4-3">
<text class="t" x="520" y="1815.6"><tspan x="520">从现场纪律来看组织比赛的首要目的是娱乐但</tspan><tspan x="520" dy="16.2">是既然是比赛我们一直强调比赛的组织性和纪</tspan><tspan x="520" dy="16.2">律性。在比赛的过程中严格遵照比赛规则进行</tspan><tspan x="520" dy="16.2">同时要求观看者遵守现场秩序确保了比赛现场</tspan><tspan x="520" dy="16.2">的正常有序。从余温来看比赛结束后大家在一</tspan><tspan x="520" dy="16.2">起津津乐道再述赛场上的精彩画面。根据员工</tspan><tspan x="520" dy="16.2">反映的情况希望今后公司能继续为员工提供更</tspan><tspan x="520" dy="16.2">多参与企业文化活动的机会。</tspan></text>
<path class="ul" d="M513 1936H780"/>
</g>
<g id="l4-4">
<text class="t" x="520" y="1982.6"><tspan x="520">通过此次活动员工们在体能上得到了锻炼在精</tspan><tspan x="520" dy="16.2">神面貌上得到了改观既体现出了本单位的团结</tspan><tspan x="520" dy="16.2">合作精神和集体荣誉感同时也增进了单位之间</tspan><tspan x="520" dy="16.2">的互助与协作使企业的凝聚力得到了充分的体</tspan><tspan x="520" dy="16.2">现。</tspan></text>
<path class="ul" d="M513 2056H780"/>
</g>
<g id="l6">
<text class="lb" x="808" y="2333"><tspan x="808">五一劳动节活动总结2023（精选篇</tspan><tspan x="808" dy="21.4">6)</tspan></text>
<path class="ul" d="M788 2368H1069"/>
</g>
<g id="l6-1">
<text class="t" x="520" y="2103.6"><tspan x="520">4月30日下午，我系组织了大二的.党员和大</tspan><tspan x="520" dy="16.2">一的青年志愿者到社区慰问老人，出劳动节黑</tspan><tspan x="520" dy="16.2">板报和打扫卫生。活动中，我们本着服务社会</tspan><tspan x="520" dy="16.2">、奉献爱心的宗旨，为社区居民带去我们节日</tspan><tspan x="520" dy="16.2">的问候。</tspan></text>
<path class="ul" d="M513 2177H780"/>
</g>
<g id="l6-2">
<text class="t" x="520" y="2223.6"><tspan x="520">青年志愿者们有的认真地在社区黑板报栏上书</tspan><tspan x="520" dy="16.2">写着对居民们的热情祝福，有的打扫社区的卫</tspan><tspan x="520" dy="16.2">生。尽管当时天气炎热，火辣辣的太阳烤着大</tspan><tspan x="520" dy="16.2">家，但同学们任劳任怨，没有一个人叫苦喊累</tspan><tspan x="520" dy="16.2">的。还有的同学去慰问了社区的孤寡老人。由</tspan><tspan x="520" dy="16.2">于语言不好沟通，青年志愿者们加上一切能想</tspan><tspan x="520" dy="16.2">到的手势来和老人沟通，问候了他们后，大家</tspan><tspan x="520" dy="16.2">一起与老人合照相片。老人们觉的很开心，他</tspan><tspan x="520" dy="16.2">们还说我们就是在为人民服务，这说明我们的</tspan><tspan x="520" dy="16.2">活动达到了目的，在这次活动中大家发扬了雷</tspan><tspan x="520" dy="16.2">锋不怕累，不怕脏的精神，把为人民服务作为</tspan><tspan x="520" dy="16.2">自己的宗旨，从劳动中获得快乐。</tspan></text>
<path class="ul" d="M513 2408H780"/>
</g>
<g id="l6-3">
<text class="t" x="520" y="2455.6"><tspan x="520">五一劳动节又为我们提供了一次发扬雷锋精神</tspan><tspan x="520" dy="16.2">，做好事的机会。时间是短暂的，生命也同样</tspan><tspan x="520" dy="16.2">如此。做好事不难，难得是一辈子做好事。我</tspan><tspan x="520" dy="16.2">们希望全体同学在以后的日子中，也能够继续</tspan><tspan x="520" dy="16.2">发扬雷锋精神。因为我们把雷锋精神这颗种子</tspan><tspan x="520" dy="16.2">深深埋在了各自心中。我们会时刻用实际行动</tspan><tspan x="520" dy="16.2">去哺育它，让它生根发芽。</tspan></text>
<path class="ul" d="M513 2561H780"/>
</g>
</svg>
